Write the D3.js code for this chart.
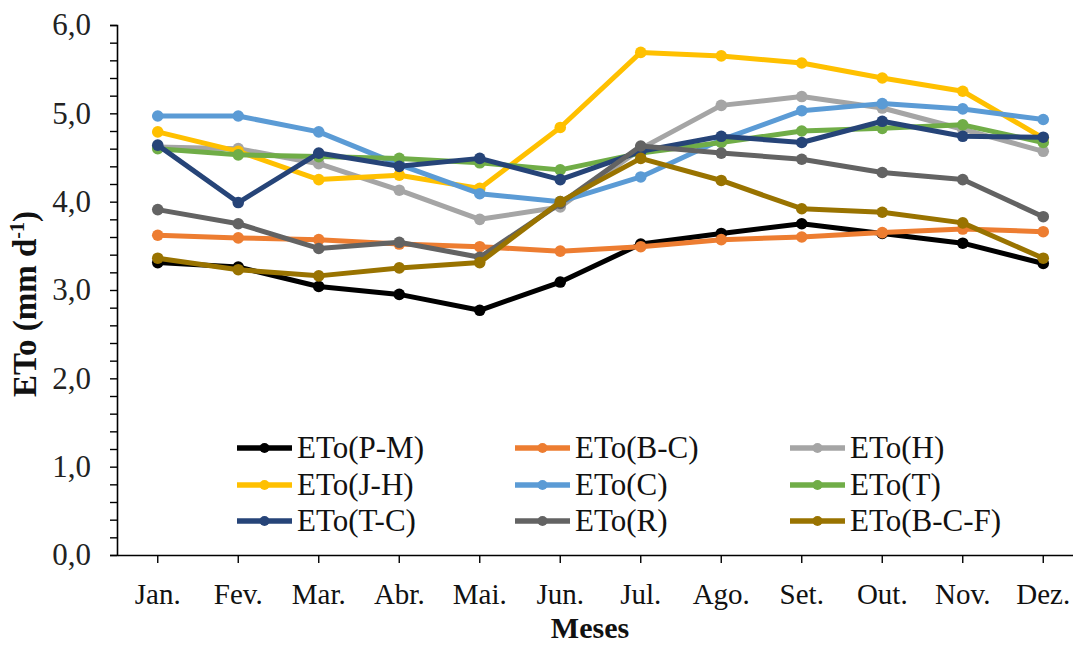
<!DOCTYPE html>
<html>
<head>
<meta charset="utf-8">
<script src="https://cdn.jsdelivr.net/npm/d3@7/dist/d3.min.js"></script>
<style>
  html, body { margin: 0; padding: 0; background: #fff; }
  svg { display: block; font-family: "Liberation Serif", "Times New Roman", serif; }
</style>
</head>
<body>
<svg id="chart" width="1073" height="648"></svg>
<script>
const months = ["Jan.", "Fev.", "Mar.", "Abr.", "Mai.", "Jun.", "Jul.", "Ago.", "Set.", "Out.", "Nov.", "Dez."];
const yTicks = [0, 1, 2, 3, 4, 5, 6];

const etoPM  = [3.31, 3.26, 3.04, 2.95, 2.77, 3.09, 3.52, 3.64, 3.75, 3.64, 3.53, 3.30];
const etoBC  = [3.62, 3.59, 3.57, 3.52, 3.49, 3.44, 3.49, 3.57, 3.60, 3.65, 3.69, 3.66];
const etoH   = [4.62, 4.60, 4.43, 4.13, 3.80, 3.94, 4.60, 5.09, 5.19, 5.06, 4.82, 4.57];
const etoJH  = [4.79, 4.57, 4.25, 4.30, 4.15, 4.84, 5.69, 5.65, 5.57, 5.40, 5.25, 4.72];
const etoC   = [4.97, 4.97, 4.79, 4.42, 4.09, 4.00, 4.28, 4.70, 5.03, 5.11, 5.05, 4.93];
const etoT   = [4.60, 4.53, 4.51, 4.49, 4.44, 4.36, 4.55, 4.67, 4.80, 4.83, 4.87, 4.67];
const etoTC  = [4.64, 3.99, 4.55, 4.40, 4.49, 4.25, 4.57, 4.74, 4.67, 4.91, 4.74, 4.73];
const etoR   = [3.91, 3.75, 3.47, 3.54, 3.37, 3.98, 4.63, 4.55, 4.48, 4.33, 4.25, 3.83];
const etoBCF = [3.36, 3.23, 3.16, 3.25, 3.31, 4.00, 4.49, 4.24, 3.92, 3.88, 3.76, 3.36];

const seriesNames  = ["ETo(P-M)", "ETo(B-C)", "ETo(H)", "ETo(J-H)", "ETo(C)", "ETo(T)", "ETo(T-C)", "ETo(R)", "ETo(B-C-F)"];
const seriesValues = [etoPM, etoBC, etoH, etoJH, etoC, etoT, etoTC, etoR, etoBCF];
const seriesColors = ["#000000", "#ED7D31", "#A5A5A5", "#FFC000", "#5B9BD5", "#70AD47", "#264478", "#636363", "#997300"];

const svg = d3.select("#chart");

const x = d3.scaleBand().domain(months).range([117.5, 1083.5]).padding(0);
const y = d3.scaleLinear().domain([0, 6]).range([555, 25]);
const xc = m => x(m) + x.bandwidth() / 2;

// Y axis: minor ticks
svg.append("g")
  .attr("transform", "translate(117,0)")
  .call(d3.axisLeft(y).tickValues(d3.range(0, 31).map(i => i * 0.2)).tickSize(7).tickFormat(""))
  .call(g => g.select(".domain").attr("stroke", "#000").attr("stroke-width", 1.6))
  .call(g => g.selectAll(".tick line").attr("stroke", "#000").attr("stroke-width", 1.4));

// Y axis: labels
svg.append("g")
  .attr("transform", "translate(117,0)")
  .call(d3.axisLeft(y).tickValues(yTicks).tickSize(0).tickPadding(26)
    .tickFormat(d => d3.format(".1f")(d).replace(".", ",")))
  .call(g => g.select(".domain").remove())
  .call(g => g.selectAll(".tick text")
    .attr("font-family", "Liberation Serif")
    .attr("font-size", 31)
    .attr("fill", "#222"));

// X axis
svg.append("g")
  .attr("transform", "translate(0,555)")
  .call(d3.axisBottom(x).tickSize(8).tickSizeOuter(0).tickPadding(20))
  .call(g => g.select(".domain").attr("stroke", "#000").attr("stroke-width", 1.6))
  .call(g => g.selectAll(".tick line").attr("stroke", "#000").attr("stroke-width", 1.4))
  .call(g => g.selectAll(".tick text")
    .attr("font-family", "Liberation Serif")
    .attr("font-size", 29)
    .attr("fill", "#111"));

// Series lines & markers
const line = d3.line().x((d, i) => xc(months[i])).y(d => y(d));
seriesValues.forEach((vals, si) => {
  const g = svg.append("g").attr("class", "series");
  g.append("path")
    .datum(vals)
    .attr("d", line)
    .attr("fill", "none")
    .attr("stroke", seriesColors[si])
    .attr("stroke-width", 5)
    .attr("stroke-linejoin", "round");
  g.selectAll("circle")
    .data(vals)
    .join("circle")
    .attr("cx", (d, i) => xc(months[i]))
    .attr("cy", d => y(d))
    .attr("r", 5.8)
    .attr("fill", seriesColors[si]);
});

// Legend
const legCols = [237, 515, 790];
const legRows = [448, 485, 521];
seriesNames.forEach((name, i) => {
  const cx = legCols[i % 3], cy = legRows[Math.floor(i / 3)];
  const g = svg.append("g");
  g.append("line").attr("x1", cx).attr("x2", cx + 55).attr("y1", cy).attr("y2", cy)
    .attr("stroke", seriesColors[i]).attr("stroke-width", 5.5);
  g.append("circle").attr("cx", cx + 27.5).attr("cy", cy).attr("r", 5).attr("fill", seriesColors[i]);
  g.append("text").attr("x", cx + 60).attr("y", cy + 10)
    .attr("font-size", 31).attr("fill", "#111").text(name);
});

// Axis titles
svg.append("text")
  .attr("x", 590).attr("y", 638)
  .attr("text-anchor", "middle")
  .attr("font-size", 30).attr("font-weight", "bold").attr("fill", "#111")
  .text("Meses");

const yl = svg.append("text")
  .attr("transform", "translate(36,304) rotate(-90)")
  .attr("text-anchor", "middle")
  .attr("font-size", 33).attr("font-weight", "bold").attr("fill", "#111");
yl.append("tspan").text("ETo (mm d");
yl.append("tspan").attr("font-size", 20).attr("dy", -12).text("-1");
yl.append("tspan").attr("dy", 12).text(")");
</script>
</body>
</html>
